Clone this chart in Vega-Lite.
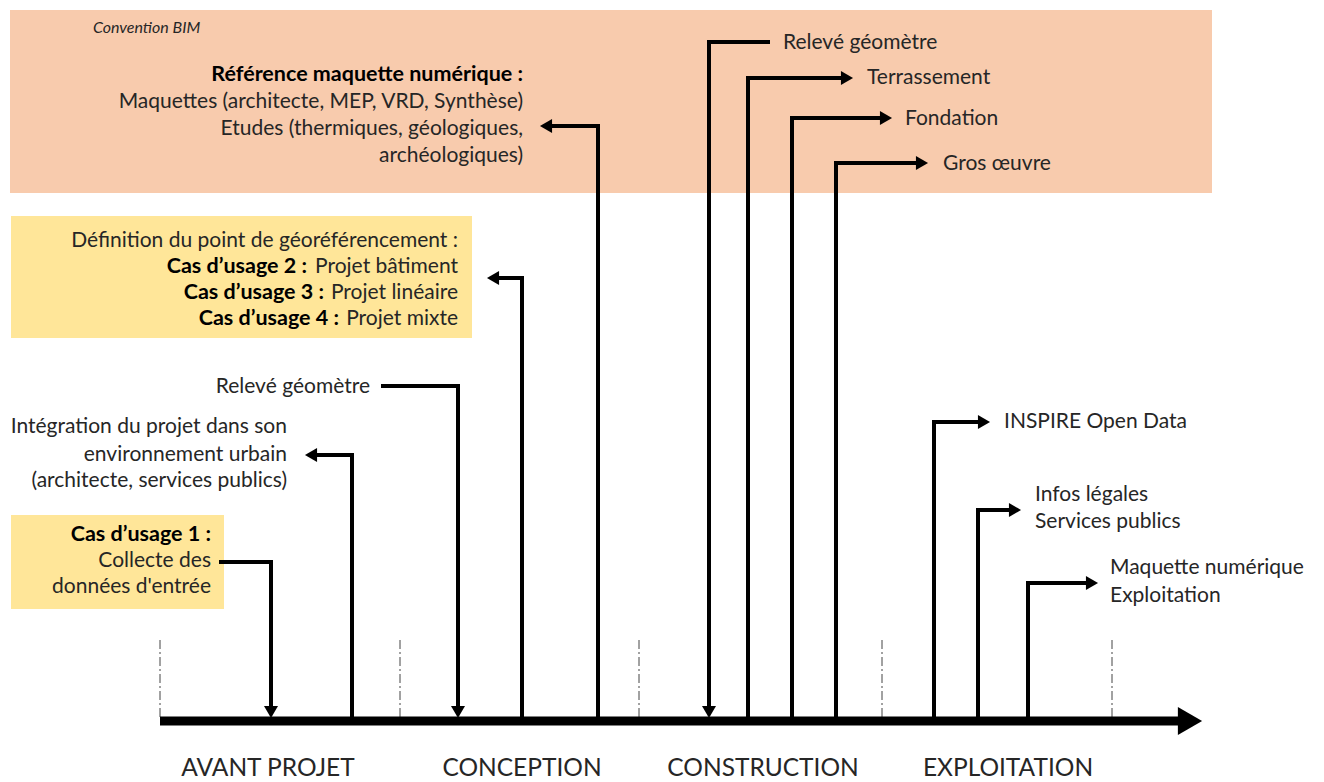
{
  "$schema": "https://vega.github.io/schema/vega-lite/v6.json",
  "width": 1324,
  "height": 782,
  "autosize": {"type": "fit", "contains": "padding"},
  "padding": 0,
  "background": "white",
  "config": {"view": {"stroke": null}, "axis": {"disable": true}, "text": {"font": "Lato", "color": "#262626"}},
  "datasets": {
    "bands": [
      {"kind": "BIM", "x0": 10, "x1": 1212, "y0": 10, "y1": 193},
      {"kind": "usage", "x0": 11, "x1": 472, "y0": 216, "y1": 338},
      {"kind": "usage", "x0": 11, "x1": 224, "y0": 515, "y1": 609}
    ],
    "dividers": [
      {"x": 160, "y0": 640, "y1": 717},
      {"x": 400, "y0": 640, "y1": 717},
      {"x": 639, "y0": 640, "y1": 717},
      {"x": 882, "y0": 640, "y1": 717},
      {"x": 1112, "y0": 640, "y1": 717}
    ],
    "timeline": [{"x0": 160, "x1": 1180, "y": 721}],
    "connectors": [
      {"id": "c1", "o": 1, "x": 219, "y": 562}, {"id": "c1", "o": 2, "x": 271, "y": 562}, {"id": "c1", "o": 3, "x": 271, "y": 708},
      {"id": "c2", "o": 1, "x": 313, "y": 455}, {"id": "c2", "o": 2, "x": 352, "y": 455}, {"id": "c2", "o": 3, "x": 352, "y": 721},
      {"id": "c3", "o": 1, "x": 381, "y": 386}, {"id": "c3", "o": 2, "x": 458, "y": 386}, {"id": "c3", "o": 3, "x": 458, "y": 708},
      {"id": "c4", "o": 1, "x": 495, "y": 278}, {"id": "c4", "o": 2, "x": 522, "y": 278}, {"id": "c4", "o": 3, "x": 522, "y": 721},
      {"id": "c5", "o": 1, "x": 548, "y": 126}, {"id": "c5", "o": 2, "x": 598, "y": 126}, {"id": "c5", "o": 3, "x": 598, "y": 721},
      {"id": "c6", "o": 1, "x": 770, "y": 42}, {"id": "c6", "o": 2, "x": 709, "y": 42}, {"id": "c6", "o": 3, "x": 709, "y": 708},
      {"id": "c7", "o": 1, "x": 748, "y": 721}, {"id": "c7", "o": 2, "x": 748, "y": 78}, {"id": "c7", "o": 3, "x": 845, "y": 78},
      {"id": "c8", "o": 1, "x": 792, "y": 721}, {"id": "c8", "o": 2, "x": 792, "y": 118}, {"id": "c8", "o": 3, "x": 884, "y": 118},
      {"id": "c9", "o": 1, "x": 836, "y": 721}, {"id": "c9", "o": 2, "x": 836, "y": 163}, {"id": "c9", "o": 3, "x": 920, "y": 163},
      {"id": "c10", "o": 1, "x": 934, "y": 721}, {"id": "c10", "o": 2, "x": 934, "y": 422}, {"id": "c10", "o": 3, "x": 982, "y": 422},
      {"id": "c11", "o": 1, "x": 978, "y": 721}, {"id": "c11", "o": 2, "x": 978, "y": 510}, {"id": "c11", "o": 3, "x": 1013, "y": 510},
      {"id": "c12", "o": 1, "x": 1028, "y": 721}, {"id": "c12", "o": 2, "x": 1028, "y": 583}, {"id": "c12", "o": 3, "x": 1090, "y": 583}
    ],
    "heads": [
      {"dir": "down", "x": 271, "y": 712},
      {"dir": "down", "x": 458, "y": 712},
      {"dir": "down", "x": 709, "y": 712},
      {"dir": "left", "x": 311, "y": 455},
      {"dir": "left", "x": 493, "y": 278},
      {"dir": "left", "x": 546, "y": 126},
      {"dir": "right", "x": 847, "y": 78},
      {"dir": "right", "x": 886, "y": 118},
      {"dir": "right", "x": 922, "y": 163},
      {"dir": "right", "x": 984, "y": 422},
      {"dir": "right", "x": 1015, "y": 510},
      {"dir": "right", "x": 1092, "y": 583}
    ],
    "bighead": [{"x": 1190, "y": 721}],
    "labels": [
      {"g": "R", "t": "Maquettes (architecte, MEP, VRD, Synthèse)", "x": 523, "y": 102},
      {"g": "R", "t": "Etudes (thermiques, géologiques,", "x": 523, "y": 129},
      {"g": "R", "t": "archéologiques)", "x": 523, "y": 156},
      {"g": "R", "t": "Définition du point de géoréférencement :", "x": 458, "y": 241},
      {"g": "R", "t": "Projet bâtiment", "x": 458, "y": 267},
      {"g": "R", "t": "Projet linéaire", "x": 458, "y": 293},
      {"g": "R", "t": "Projet mixte", "x": 458, "y": 319},
      {"g": "R", "t": "Relevé géomètre", "x": 370, "y": 387},
      {"g": "R", "t": "Intégration du projet dans son", "x": 287, "y": 427},
      {"g": "R", "t": "environnement urbain", "x": 287, "y": 455},
      {"g": "R", "t": "(architecte, services publics)", "x": 287, "y": 481},
      {"g": "R", "t": "Collecte des", "x": 211, "y": 561},
      {"g": "R", "t": "données d'entrée", "x": 211, "y": 587},
      {"g": "RB", "t": "Référence maquette numérique :", "x": 523, "y": 75},
      {"g": "RB", "t": "Cas d’usage 2 :", "x": 307, "y": 267},
      {"g": "RB", "t": "Cas d’usage 3 :", "x": 324, "y": 293},
      {"g": "RB", "t": "Cas d’usage 4 :", "x": 339, "y": 319},
      {"g": "RB", "t": "Cas d’usage 1 :", "x": 211, "y": 535},
      {"g": "L", "t": "Relevé géomètre", "x": 783, "y": 43},
      {"g": "L", "t": "Terrassement", "x": 867, "y": 78},
      {"g": "L", "t": "Fondation", "x": 905, "y": 119},
      {"g": "L", "t": "Gros œuvre", "x": 943, "y": 164},
      {"g": "L", "t": "INSPIRE Open Data", "x": 1004, "y": 422},
      {"g": "L", "t": "Infos légales", "x": 1035, "y": 495},
      {"g": "L", "t": "Services publics", "x": 1035, "y": 522},
      {"g": "L", "t": "Maquette numérique", "x": 1110, "y": 568},
      {"g": "L", "t": "Exploitation", "x": 1110, "y": 596},
      {"g": "I", "t": "Convention BIM", "x": 93, "y": 28},
      {"g": "P", "t": "AVANT PROJET", "x": 268, "y": 769},
      {"g": "P", "t": "CONCEPTION", "x": 522, "y": 769},
      {"g": "P", "t": "CONSTRUCTION", "x": 763, "y": 769},
      {"g": "P", "t": "EXPLOITATION", "x": 1008, "y": 769}
    ]
  },
  "layer": [
    {
      "data": {"name": "bands"},
      "mark": {"type": "rect"},
      "encoding": {
        "x": {"field": "x0", "type": "quantitative", "scale": {"domain": [0, 1324], "nice": false, "zero": false}, "axis": null},
        "x2": {"field": "x1"},
        "y": {"field": "y0", "type": "quantitative", "scale": {"domain": [0, 782], "nice": false, "zero": false, "reverse": true}, "axis": null},
        "y2": {"field": "y1"},
        "color": {"field": "kind", "type": "nominal", "scale": {"domain": ["BIM", "usage"], "range": ["#f8cbad", "#ffe699"]}, "legend": null}
      }
    },
    {
      "data": {"name": "dividers"},
      "mark": {"type": "rule", "color": "#444444", "strokeWidth": 1, "strokeDash": [9, 3, 2, 3]},
      "encoding": {
        "x": {"field": "x", "type": "quantitative"},
        "y": {"field": "y0", "type": "quantitative"},
        "y2": {"field": "y1"}
      }
    },
    {
      "data": {"name": "connectors"},
      "mark": {"type": "line", "color": "black", "strokeWidth": 4, "strokeJoin": "miter", "strokeCap": "butt"},
      "encoding": {
        "x": {"field": "x", "type": "quantitative"},
        "y": {"field": "y", "type": "quantitative"},
        "detail": {"field": "id"},
        "order": {"field": "o", "type": "quantitative"}
      }
    },
    {
      "data": {"name": "timeline"},
      "mark": {"type": "rule", "color": "black", "strokeWidth": 9, "strokeCap": "butt"},
      "encoding": {
        "x": {"field": "x0", "type": "quantitative"},
        "x2": {"field": "x1"},
        "y": {"field": "y", "type": "quantitative"}
      }
    },
    {
      "data": {"name": "bighead"},
      "mark": {"type": "point", "shape": "triangle-right", "filled": true, "color": "black", "opacity": 1, "size": 784, "strokeWidth": 0},
      "encoding": {
        "x": {"field": "x", "type": "quantitative"},
        "y": {"field": "y", "type": "quantitative"}
      }
    },
    {
      "data": {"name": "heads"},
      "mark": {"type": "point", "filled": true, "color": "black", "opacity": 1, "size": 196, "strokeWidth": 0},
      "encoding": {
        "x": {"field": "x", "type": "quantitative"},
        "y": {"field": "y", "type": "quantitative"},
        "shape": {"field": "dir", "type": "nominal", "scale": {"domain": ["down", "left", "right"], "range": ["triangle-down", "triangle-left", "triangle-right"]}, "legend": null}
      }
    },
    {
      "data": {"name": "labels"},
      "transform": [{"filter": "datum.g === 'R'"}],
      "mark": {"type": "text", "align": "right", "baseline": "middle", "fontSize": 21},
      "encoding": {
        "x": {"field": "x", "type": "quantitative"},
        "y": {"field": "y", "type": "quantitative"},
        "text": {"field": "t"}
      }
    },
    {
      "data": {"name": "labels"},
      "transform": [{"filter": "datum.g === 'RB'"}],
      "mark": {"type": "text", "align": "right", "baseline": "middle", "fontSize": 21.5, "fontWeight": "bold", "color": "black"},
      "encoding": {
        "x": {"field": "x", "type": "quantitative"},
        "y": {"field": "y", "type": "quantitative"},
        "text": {"field": "t"}
      }
    },
    {
      "data": {"name": "labels"},
      "transform": [{"filter": "datum.g === 'L'"}],
      "mark": {"type": "text", "align": "left", "baseline": "middle", "fontSize": 21},
      "encoding": {
        "x": {"field": "x", "type": "quantitative"},
        "y": {"field": "y", "type": "quantitative"},
        "text": {"field": "t"}
      }
    },
    {
      "data": {"name": "labels"},
      "transform": [{"filter": "datum.g === 'I'"}],
      "mark": {"type": "text", "align": "left", "baseline": "middle", "fontSize": 16, "fontStyle": "italic"},
      "encoding": {
        "x": {"field": "x", "type": "quantitative"},
        "y": {"field": "y", "type": "quantitative"},
        "text": {"field": "t"}
      }
    },
    {
      "data": {"name": "labels"},
      "transform": [{"filter": "datum.g === 'P'"}],
      "mark": {"type": "text", "align": "center", "baseline": "middle", "fontSize": 24.5},
      "encoding": {
        "x": {"field": "x", "type": "quantitative"},
        "y": {"field": "y", "type": "quantitative"},
        "text": {"field": "t"}
      }
    }
  ]
}
